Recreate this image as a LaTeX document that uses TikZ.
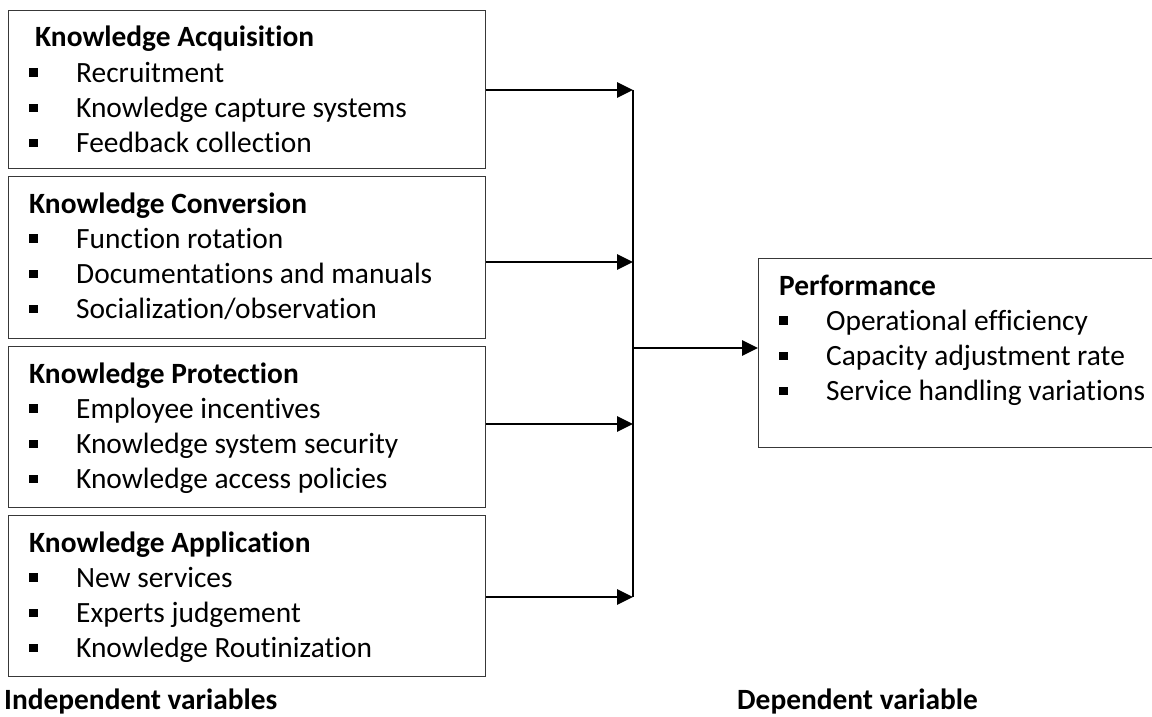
\documentclass[tikz,border=0pt]{standalone}
\usepackage{fontspec}
\setmainfont{Carlito}[Ligatures=NoCommon]
\usetikzlibrary{arrows.meta}
\newcommand{\bul}{\makebox[47pt][l]{\rule[5.5pt]{8.5pt}{8.5pt}}}
\newcommand{\boxtext}[1]{\parbox[t]{460pt}{\fontsize{29.4}{35.3}\selectfont #1}}
\begin{document}
\begin{tikzpicture}[x=1pt,y=-1pt,
  varbox/.style={draw=black!78, line width=1.2pt, rectangle, inner sep=0pt,
    anchor=north west, minimum width=477pt, minimum height=#1},
  boxcontent/.style={anchor=base west, inner sep=0pt, align=left},
  label/.style={anchor=base west, inner sep=0pt, font=\fontsize{29.4}{35}\selectfont\bfseries},
  conn/.style={line width=2.8pt, -{Triangle[length=16pt,width=15pt]}},
  bar/.style={line width=2.4pt}
]
\useasboundingbox (0,0) rectangle (1152,717);
\clip (0,0) rectangle (1152,717);
% independent variable boxes
\node[varbox=158pt] (b1) at (8,10) {};
\node[varbox=162pt] (b2) at (8,176) {};
\node[varbox=161pt] (b3) at (8,346) {};
\node[varbox=161pt] (b4) at (8,515) {};
% dependent variable box (right side runs past the edge)
\node[draw=black!78, line width=1.2pt, rectangle, inner sep=0pt, anchor=north west,
  minimum width=420pt, minimum height=189pt] (p) at (758,258) {};
% texts
\node[boxcontent] (t1) at (29,47) {\boxtext{\hspace*{6pt}\textbf{Knowledge Acquisition}\\
  \bul Recruitment\\ \bul Knowledge capture systems\\ \bul Feedback collection}};
\node[boxcontent] (t2) at (29,213) {\boxtext{\textbf{Knowledge Conversion}\\
  \bul Function rotation\\ \bul Documentations and manuals\\ \bul Socialization/observation}};
\node[boxcontent] (t3) at (29,383) {\boxtext{\textbf{Knowledge Protection}\\
  \bul Employee incentives\\ \bul Knowledge system security\\ \bul Knowledge access policies}};
\node[boxcontent] (t4) at (29,552) {\boxtext{\textbf{Knowledge Application}\\
  \bul New services\\ \bul Experts judgement\\ \bul Knowledge Routinization}};
\node[boxcontent] (tp) at (779,295) {\boxtext{\textbf{Performance}\\
  \bul Operational efficiency\\ \bul Capacity adjustment rate\\ \bul Service handling variations}};
% bottom labels
\node[label] (indep) at (4,709) {Independent variables};
\node[label] (dep) at (737,709) {Dependent variable};
% junction coordinates
\coordinate (j1) at (633,90);
\coordinate (j2) at (633,262);
\coordinate (j3) at (633,424);
\coordinate (j4) at (633,597);
\coordinate (jm) at (633,348);
% connectors
\draw[conn] (b1.east |- j1) -- (j1);
\draw[conn] (b2.east |- j2) -- (j2);
\draw[conn] (b3.east |- j3) -- (j3);
\draw[conn] (b4.east |- j4) -- (j4);
\draw[bar] (j1) -- (j4);
\draw[conn] (jm) -- (p.west |- jm);
\end{tikzpicture}
\end{document}
